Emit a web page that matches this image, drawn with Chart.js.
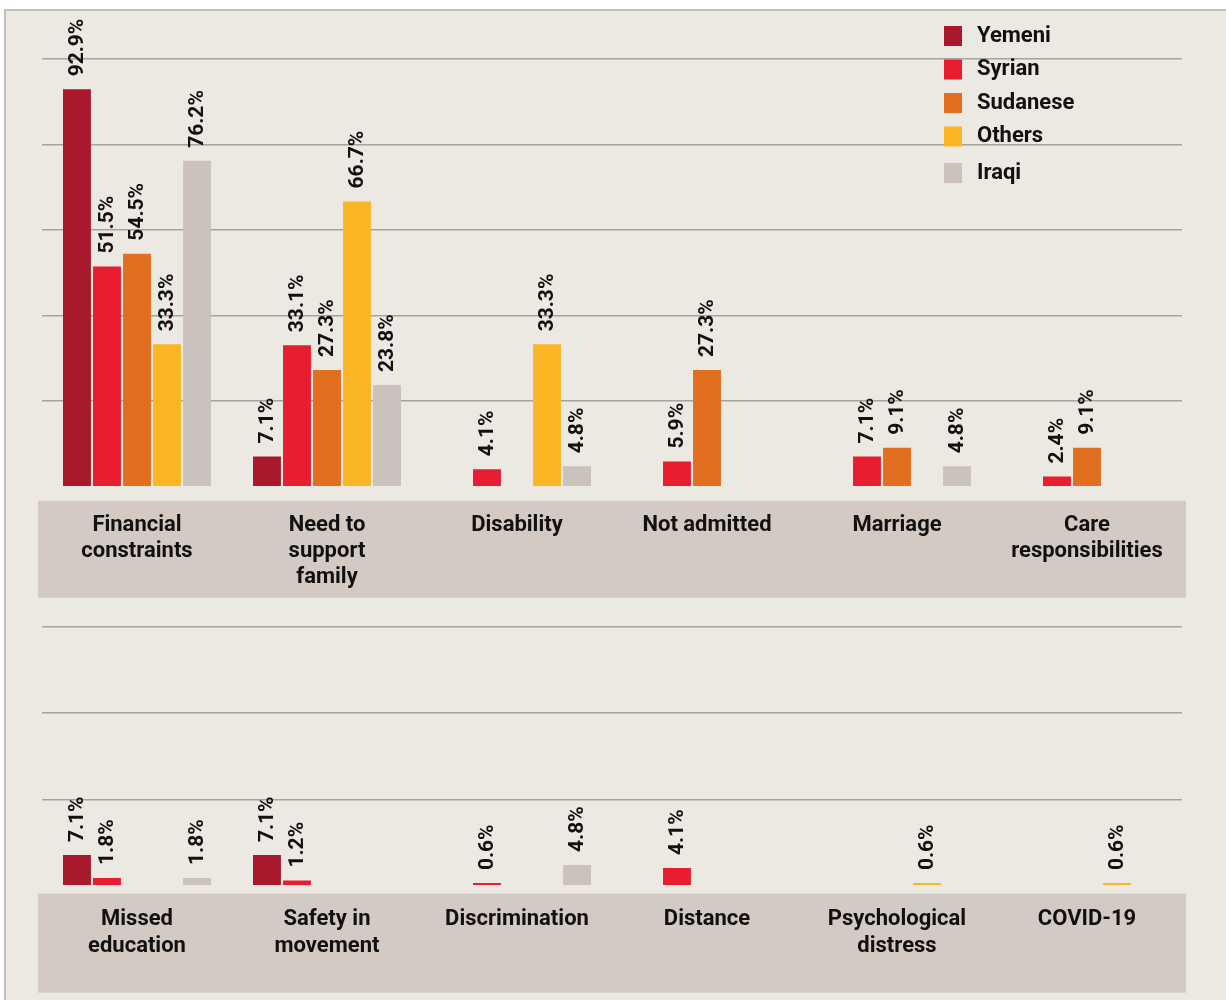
<!DOCTYPE html>
<html>
<head>
<meta charset="utf-8">
<script src="https://cdn.jsdelivr.net/npm/chart.js@4.4.1/dist/chart.umd.min.js"></script>
<style>
  body { margin: 0; background: #ffffff; width: 1226px; height: 1000px; overflow: hidden; }
  #frame { position: absolute; left: 4px; top: 9px; right: 0; bottom: 0;
           background: #ece8e2; border-left: 2px solid #c2bfbb; border-top: 2px solid #c2bfbb; }
  canvas { position: absolute; left: 0; }
  #topChart { top: 0; }
  #bottomChart { top: 610px; }
</style>
</head>
<body>
<div id="frame"></div>
<canvas id="topChart" width="1226" height="640"></canvas>
<canvas id="bottomChart" width="1226" height="390"></canvas>
<script>
// series names and colours
const seriesNames = ["Yemeni", "Syrian", "Sudanese", "Others", "Iraqi"];
const seriesColors = ["#a8192d", "#e81e30", "#e26e20", "#fbb626", "#cbc2bd"];

// upper panel
const topCategories = [
  ["Financial", "constraints"],
  ["Need to", "support", "family"],
  ["Disability"],
  ["Not admitted"],
  ["Marriage"],
  ["Care", "responsibilities"]
];
const topYemeni   = [92.9, 7.1, null, null, null, null];
const topSyrian   = [51.5, 33.1, 4.1, 5.9, 7.1, 2.4];
const topSudanese = [54.5, 27.3, null, 27.3, 9.1, 9.1];
const topOthers   = [33.3, 66.7, 33.3, null, null, null];
const topIraqi    = [76.2, 23.8, 4.8, null, 4.8, null];

// lower panel
const bottomCategories = [
  ["Missed", "education"],
  ["Safety in", "movement"],
  ["Discrimination"],
  ["Distance"],
  ["Psychological", "distress"],
  ["COVID-19"]
];
const bottomYemeni   = [7.1, 7.1, null, null, null, null];
const bottomSyrian   = [1.8, 1.2, 0.6, 4.1, null, null];
const bottomSudanese = [null, null, null, null, null, null];
const bottomOthers   = [null, null, null, null, 0.6, 0.6];
const bottomIraqi    = [1.8, null, 4.8, null, null, null];

const FONT = "Roboto, 'Noto Sans', sans-serif";
const GRID = "#a7a29d";

function makeDatasets(rows) {
  return rows.map((vals, i) => ({
    label: seriesNames[i],
    data: vals,
    backgroundColor: seriesColors[i],
    borderWidth: 0,
    categoryPercentage: 0.79,
    barPercentage: 0.93
  }));
}

// grey band behind the category names
const bandPlugin = {
  id: "band",
  beforeDraw(chart, args, opts) {
    const a = chart.chartArea;
    const ctx = chart.ctx;
    ctx.save();
    ctx.fillStyle = "#d3cac4";
    ctx.fillRect(a.left - 4, a.bottom + opts.top, a.right - a.left + 8, opts.height);
    ctx.restore();
  }
};

// rotated value labels above the bars
const valueLabels = {
  id: "valueLabels",
  afterDatasetsDraw(chart) {
    const ctx = chart.ctx;
    ctx.save();
    ctx.font = "bold 21px " + FONT;
    ctx.fillStyle = "#111111";
    ctx.textAlign = "left";
    ctx.textBaseline = "middle";
    chart.data.datasets.forEach((ds, i) => {
      chart.getDatasetMeta(i).data.forEach((bar, j) => {
        const v = ds.data[j];
        if (v == null) return;
        ctx.save();
        ctx.translate(bar.x + 1, bar.y - 13);
        ctx.rotate(-Math.PI / 2);
        ctx.fillText(v.toFixed(1) + "%", 0, 0);
        ctx.restore();
      });
    });
    ctx.restore();
  }
};

// legend drawn inside the plot, over the grid lines
const boxLegend = {
  id: "boxLegend",
  afterDraw(chart, args, opts) {
    if (!opts.show) return;
    const ctx = chart.ctx;
    ctx.save();
    ctx.font = "bold 22px " + FONT;
    ctx.textBaseline = "middle";
    chart.data.datasets.forEach((ds, i) => {
      const y = opts.y + i * 33.5 + (i === 4 ? 3 : 0);
      ctx.fillStyle = ds.backgroundColor;
      ctx.fillRect(opts.x, y, 18, 20);
      ctx.fillStyle = "#111111";
      ctx.fillText(ds.label, opts.x + 33, y + 10);
    });
    ctx.restore();
  }
};

function panel(id, labels, rows, yMax, pad, tickPad, band, legend) {
  return new Chart(document.getElementById(id), {
    type: "bar",
    data: { labels: labels, datasets: makeDatasets(rows) },
    options: {
      responsive: false,
      animation: false,
      layout: { padding: pad },
      plugins: {
        legend: { display: false },
        tooltip: { enabled: false },
        band: band,
        boxLegend: legend
      },
      scales: {
        x: {
          grid: { display: false },
          border: { display: false },
          ticks: {
            color: "#111111",
            padding: tickPad,
            maxRotation: 0,
            autoSkip: false,
            font: { family: FONT, size: 22, weight: "bold", lineHeight: 1.2 }
          }
        },
        y: {
          min: 0,
          max: yMax,
          ticks: { display: false, stepSize: 20 },
          border: { display: false },
          grid: {
            drawTicks: false,
            lineWidth: 1.5,
            color: (c) => (c.tick && c.tick.value === 0 ? "rgba(0,0,0,0)" : GRID)
          }
        }
      }
    },
    plugins: [bandPlugin, valueLabels, boxLegend]
  });
}

panel("topChart", topCategories,
  [topYemeni, topSyrian, topSudanese, topOthers, topIraqi],
  100, { left: 42, right: 44, top: 59, bottom: 32 }, 17,
  { top: 14, height: 97 }, { show: true, x: 944, y: 26 });

panel("bottomChart", bottomCategories,
  [bottomYemeni, bottomSyrian, bottomSudanese, bottomOthers, bottomIraqi],
  60, { left: 42, right: 44, top: 17, bottom: 27.5 }, 13,
  { top: 8, height: 99 }, { show: false });
</script>
</body>
</html>
